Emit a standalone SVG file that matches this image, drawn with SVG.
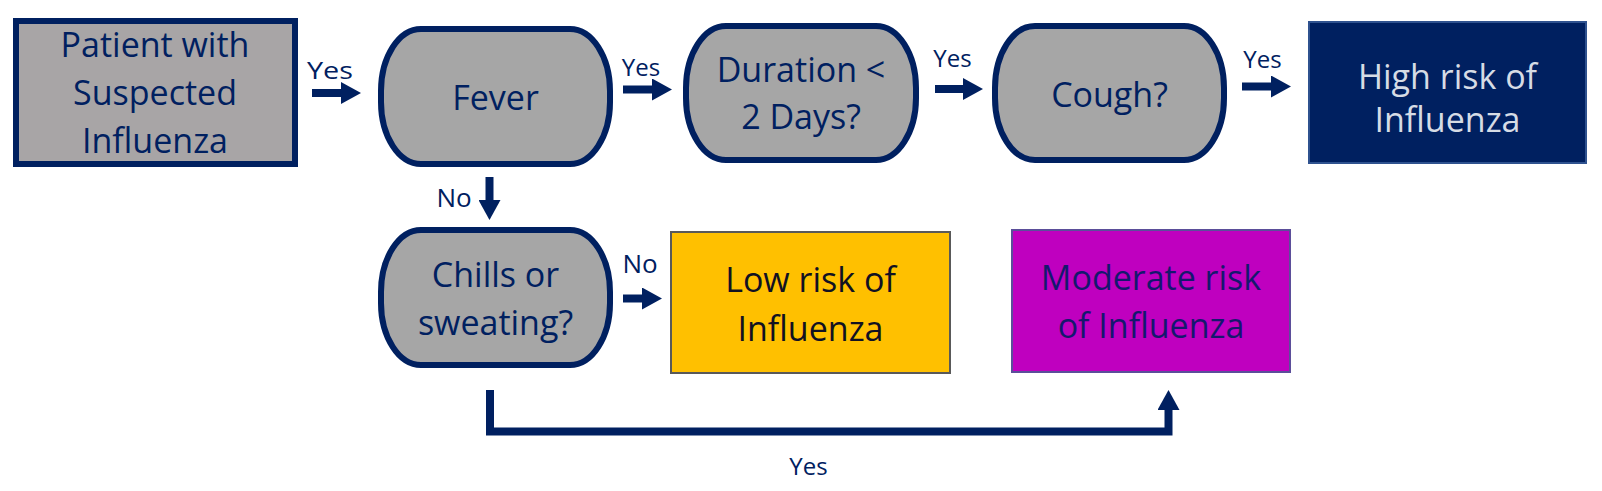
<svg xmlns="http://www.w3.org/2000/svg" width="1602" height="491" viewBox="0 0 1602 491">
<style>
  .bg { fill: #FFFFFF; }
  .dec { fill: #A6A6A6; stroke: #002060; stroke-width: 6; }
  .t { font-family: "Open Sans", "Liberation Sans", sans-serif; font-size: 34px; text-anchor: middle; }
  .navy { fill: #002060; }
  .lbl { font-family: "Open Sans", "Liberation Sans", sans-serif; font-size: 24px; text-anchor: middle; fill: #002060; }
  .no { font-size: 26px; }
  .conn { stroke: #002060; stroke-width: 8; fill: none; stroke-linejoin: miter; }
</style>
<defs>
  <marker id="ah" markerUnits="userSpaceOnUse" markerWidth="20" markerHeight="22" refX="8" refY="11" orient="auto">
    <path d="M0,0 L20,11 L0,22 Z" fill="#002060"/>
  </marker>
</defs>
<rect class="bg" x="0" y="0" width="1602" height="491"/>

<g id="patient">
  <rect x="16" y="21" width="279" height="143" fill="#A8A5A6" stroke="#002060" stroke-width="6"/>
  <text class="t navy" x="155" y="57">Patient with</text>
  <text class="t navy" x="155" y="105">Suspected</text>
  <text class="t navy" x="155" y="153">Influenza</text>
</g>

<g id="fever">
  <rect class="dec" x="381" y="29" width="229" height="135" rx="40" ry="62"/>
  <text class="t navy" x="495.5" y="110">Fever</text>
</g>

<g id="duration">
  <rect class="dec" x="686" y="26" width="230" height="134" rx="40" ry="62"/>
  <text class="t navy" x="801" y="82">Duration &lt;</text>
  <text class="t navy" x="801" y="129">2 Days?</text>
</g>

<g id="cough">
  <rect class="dec" x="995" y="26" width="229" height="134" rx="40" ry="62"/>
  <text class="t navy" x="1109.5" y="107">Cough?</text>
</g>

<g id="high-risk">
  <rect x="1309" y="22" width="277" height="141" fill="#002060" stroke="#2F528F" stroke-width="2"/>
  <text class="t" x="1447.5" y="89" fill="#D6DCE5">High risk of</text>
  <text class="t" x="1447.5" y="132" fill="#D6DCE5">Influenza</text>
</g>

<g id="chills">
  <rect class="dec" x="381" y="230" width="229" height="135" rx="40" ry="62"/>
  <text class="t navy" x="495.5" y="287">Chills or</text>
  <text class="t navy" x="495.5" y="335">sweating?</text>
</g>

<g id="low-risk">
  <rect x="671" y="232" width="279" height="141" fill="#FFC000" stroke="#595959" stroke-width="2"/>
  <text class="t" x="810.5" y="292" fill="#111122">Low risk of</text>
  <text class="t" x="810.5" y="341" fill="#111122">Influenza</text>
</g>

<g id="moderate-risk">
  <rect x="1012" y="230" width="278" height="142" fill="#BF00BF" stroke="#5B4E9A" stroke-width="2"/>
  <text class="t" x="1151" y="290" fill="#14186E">Moderate risk</text>
  <text class="t" x="1151" y="338" fill="#14186E">of Influenza</text>
</g>

<g id="connectors">
  <line class="conn" x1="312" y1="93" x2="349" y2="93" marker-end="url(#ah)"/>
  <text class="lbl" x="330" y="79" textLength="46" lengthAdjust="spacingAndGlyphs">Yes</text>

  <line class="conn" x1="623" y1="89.5" x2="660" y2="89.5" marker-end="url(#ah)"/>
  <text class="lbl" x="641" y="76">Yes</text>

  <line class="conn" x1="935" y1="89" x2="971" y2="89" marker-end="url(#ah)"/>
  <text class="lbl" x="952.5" y="67">Yes</text>

  <line class="conn" x1="1242" y1="86.5" x2="1279" y2="86.5" marker-end="url(#ah)"/>
  <text class="lbl" x="1262.5" y="68">Yes</text>

  <line class="conn" x1="489.5" y1="177" x2="489.5" y2="208" marker-end="url(#ah)"/>
  <text class="lbl no" x="454" y="207">No</text>

  <line class="conn" x1="623" y1="298.5" x2="650" y2="298.5" marker-end="url(#ah)"/>
  <text class="lbl no" x="640" y="273">No</text>

  <path class="conn" d="M490,390 V431.5 H1168.5 V402" marker-end="url(#ah)"/>
  <text class="lbl" x="808.5" y="475">Yes</text>
</g>
</svg>
